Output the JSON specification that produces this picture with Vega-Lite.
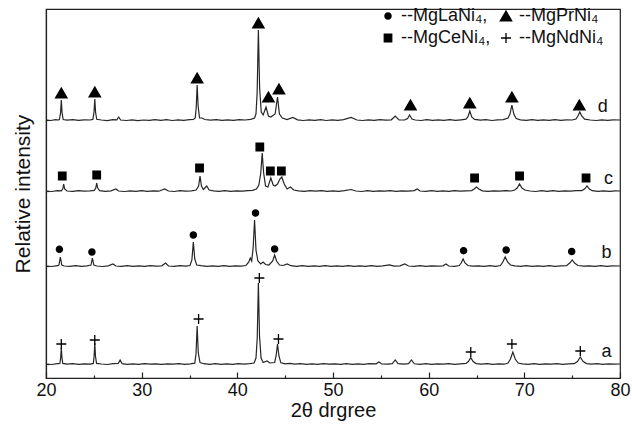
{
  "$schema": "https://vega.github.io/schema/vega-lite/v6.json",
  "width": 574,
  "height": 369,
  "autosize": "none",
  "padding": {"left": 46, "top": 9, "right": 12, "bottom": 49},
  "background": "white",
  "config": {
    "view": {"stroke": "#222", "strokeWidth": 1.2},
    "font": "Liberation Sans",
    "axis": {"grid": false, "domainColor": "#222", "domainWidth": 1.2, "tickColor": "#222", "tickWidth": 1.2, "labelColor": "#111", "titleColor": "#111", "titleFontWeight": "normal", "labelFont": "Liberation Sans", "titleFont": "Liberation Sans"},
    "legend": {"labelFont": "Liberation Sans", "labelFontSize": 18, "labelColor": "#111", "labelOffset": 4, "padding": 0, "rowPadding": 4, "columnPadding": 6}
  },
  "datasets": {
    "lines": [
      {"s":"d","x":20.0,"y":258},{"s":"d","x":20.5,"y":257.5},{"s":"d","x":21.0,"y":258.3},{"s":"d","x":21.3,"y":258},{"s":"d","x":21.4,"y":258.5},{"s":"d","x":21.52,"y":265},{"s":"d","x":21.6,"y":278},{"s":"d","x":21.68,"y":265},{"s":"d","x":21.8,"y":258.5},{"s":"d","x":22.2,"y":257.8},{"s":"d","x":22.8,"y":258.4},{"s":"d","x":23.4,"y":257.6},{"s":"d","x":24.0,"y":258.2},{"s":"d","x":24.6,"y":258},{"s":"d","x":24.9,"y":258.6},{"s":"d","x":25.02,"y":266},{"s":"d","x":25.1,"y":279},{"s":"d","x":25.18,"y":266},{"s":"d","x":25.3,"y":258.7},{"s":"d","x":25.8,"y":258},{"s":"d","x":26.4,"y":257.4},{"s":"d","x":27.0,"y":258.3},{"s":"d","x":27.4,"y":258.2},{"s":"d","x":27.6,"y":261},{"s":"d","x":27.8,"y":258},{"s":"d","x":28.4,"y":257.5},{"s":"d","x":29.0,"y":258.2},{"s":"d","x":29.6,"y":257.3},{"s":"d","x":30.2,"y":258},{"s":"d","x":30.8,"y":257.6},{"s":"d","x":31.4,"y":258.4},{"s":"d","x":32.0,"y":257.7},{"s":"d","x":32.6,"y":258.4},{"s":"d","x":33.2,"y":257.5},{"s":"d","x":33.8,"y":258.1},{"s":"d","x":34.4,"y":257.6},{"s":"d","x":35.0,"y":258.4},{"s":"d","x":35.4,"y":258.6},{"s":"d","x":35.6,"y":260},{"s":"d","x":35.7,"y":270},{"s":"d","x":35.8,"y":293},{"s":"d","x":35.9,"y":272},{"s":"d","x":36.05,"y":260},{"s":"d","x":36.3,"y":260},{"s":"d","x":36.6,"y":258.5},{"s":"d","x":37.2,"y":257.8},{"s":"d","x":37.8,"y":258.4},{"s":"d","x":38.4,"y":257.6},{"s":"d","x":39.0,"y":258.2},{"s":"d","x":39.6,"y":257.7},{"s":"d","x":40.2,"y":258.3},{"s":"d","x":40.8,"y":258},{"s":"d","x":41.4,"y":258.6},{"s":"d","x":41.8,"y":260},{"s":"d","x":41.95,"y":264},{"s":"d","x":42.07,"y":285},{"s":"d","x":42.2,"y":348},{"s":"d","x":42.33,"y":290},{"s":"d","x":42.5,"y":266},{"s":"d","x":42.7,"y":263},{"s":"d","x":43.0,"y":271},{"s":"d","x":43.25,"y":262},{"s":"d","x":43.5,"y":261},{"s":"d","x":43.95,"y":264},{"s":"d","x":44.2,"y":281},{"s":"d","x":44.4,"y":264},{"s":"d","x":44.7,"y":260},{"s":"d","x":45.2,"y":258.5},{"s":"d","x":45.8,"y":260.5},{"s":"d","x":46.3,"y":258.2},{"s":"d","x":46.9,"y":257.5},{"s":"d","x":47.5,"y":258.2},{"s":"d","x":48.1,"y":257.6},{"s":"d","x":48.7,"y":258.3},{"s":"d","x":49.3,"y":257.5},{"s":"d","x":49.9,"y":258.1},{"s":"d","x":50.5,"y":257.7},{"s":"d","x":51.1,"y":258.3},{"s":"d","x":51.9,"y":260.5},{"s":"d","x":52.5,"y":258},{"s":"d","x":53.1,"y":257.5},{"s":"d","x":53.7,"y":258.2},{"s":"d","x":54.3,"y":257.6},{"s":"d","x":54.9,"y":258.4},{"s":"d","x":55.5,"y":257.8},{"s":"d","x":56.1,"y":258.2},{"s":"d","x":56.5,"y":262},{"s":"d","x":56.9,"y":258},{"s":"d","x":57.5,"y":258.2},{"s":"d","x":57.8,"y":259.5},{"s":"d","x":58.0,"y":263},{"s":"d","x":58.25,"y":259},{"s":"d","x":58.6,"y":258},{"s":"d","x":59.2,"y":257.5},{"s":"d","x":59.8,"y":258.3},{"s":"d","x":60.4,"y":257.6},{"s":"d","x":61.0,"y":258.1},{"s":"d","x":61.6,"y":257.7},{"s":"d","x":62.2,"y":258.4},{"s":"d","x":62.8,"y":257.6},{"s":"d","x":63.4,"y":258.2},{"s":"d","x":63.9,"y":258.8},{"s":"d","x":64.1,"y":261},{"s":"d","x":64.3,"y":267},{"s":"d","x":64.5,"y":261},{"s":"d","x":64.8,"y":258.6},{"s":"d","x":65.4,"y":257.8},{"s":"d","x":66.0,"y":258.3},{"s":"d","x":66.6,"y":257.5},{"s":"d","x":67.2,"y":258.2},{"s":"d","x":67.8,"y":258.4},{"s":"d","x":68.3,"y":260},{"s":"d","x":68.5,"y":264},{"s":"d","x":68.7,"y":273},{"s":"d","x":68.9,"y":264},{"s":"d","x":69.15,"y":259.5},{"s":"d","x":69.6,"y":258.2},{"s":"d","x":70.2,"y":257.6},{"s":"d","x":70.8,"y":258.3},{"s":"d","x":71.4,"y":257.6},{"s":"d","x":72.0,"y":258.2},{"s":"d","x":72.6,"y":257.7},{"s":"d","x":73.2,"y":258.3},{"s":"d","x":73.8,"y":257.6},{"s":"d","x":74.4,"y":258.2},{"s":"d","x":75.0,"y":258},{"s":"d","x":75.4,"y":259},{"s":"d","x":75.6,"y":262},{"s":"d","x":75.8,"y":266},{"s":"d","x":76.0,"y":262},{"s":"d","x":76.3,"y":258.8},{"s":"d","x":76.9,"y":258},{"s":"d","x":77.5,"y":257.5},{"s":"d","x":78.1,"y":258.2},{"s":"d","x":78.7,"y":257.6},{"s":"d","x":79.3,"y":258.2},{"s":"d","x":80.0,"y":258},

      {"s":"c","x":20.0,"y":187},{"s":"c","x":20.6,"y":186.5},{"s":"c","x":21.2,"y":187.3},{"s":"c","x":21.6,"y":187.2},{"s":"c","x":21.75,"y":189},{"s":"c","x":21.85,"y":194},{"s":"c","x":21.95,"y":189},{"s":"c","x":22.2,"y":187},{"s":"c","x":22.8,"y":186.6},{"s":"c","x":23.4,"y":187.3},{"s":"c","x":24.0,"y":186.8},{"s":"c","x":24.6,"y":187.2},{"s":"c","x":25.05,"y":187.6},{"s":"c","x":25.2,"y":190},{"s":"c","x":25.3,"y":195},{"s":"c","x":25.4,"y":190},{"s":"c","x":25.6,"y":187.4},{"s":"c","x":26.2,"y":186.7},{"s":"c","x":26.8,"y":187.2},{"s":"c","x":27.3,"y":189},{"s":"c","x":27.6,"y":187},{"s":"c","x":28.2,"y":186.5},{"s":"c","x":28.8,"y":187.2},{"s":"c","x":29.4,"y":186.7},{"s":"c","x":30.0,"y":187.3},{"s":"c","x":30.6,"y":186.6},{"s":"c","x":31.2,"y":187.2},{"s":"c","x":31.8,"y":186.8},{"s":"c","x":32.4,"y":189},{"s":"c","x":32.8,"y":187},{"s":"c","x":33.4,"y":186.5},{"s":"c","x":34.0,"y":187.3},{"s":"c","x":34.6,"y":186.8},{"s":"c","x":35.2,"y":187.2},{"s":"c","x":35.7,"y":188},{"s":"c","x":35.95,"y":192},{"s":"c","x":36.1,"y":202},{"s":"c","x":36.25,"y":192},{"s":"c","x":36.45,"y":188.5},{"s":"c","x":36.8,"y":192},{"s":"c","x":37.05,"y":188},{"s":"c","x":37.5,"y":187.2},{"s":"c","x":38.1,"y":186.6},{"s":"c","x":38.7,"y":187.3},{"s":"c","x":39.3,"y":186.7},{"s":"c","x":39.9,"y":187.2},{"s":"c","x":40.5,"y":186.8},{"s":"c","x":41.1,"y":187.4},{"s":"c","x":41.6,"y":187.6},{"s":"c","x":42.0,"y":189},{"s":"c","x":42.25,"y":193},{"s":"c","x":42.45,"y":205},{"s":"c","x":42.6,"y":225},{"s":"c","x":42.75,"y":205},{"s":"c","x":42.95,"y":192},{"s":"c","x":43.2,"y":191},{"s":"c","x":43.5,"y":200},{"s":"c","x":43.75,"y":193},{"s":"c","x":43.95,"y":192},{"s":"c","x":44.2,"y":194},{"s":"c","x":44.45,"y":199},{"s":"c","x":44.65,"y":201},{"s":"c","x":44.9,"y":194},{"s":"c","x":45.2,"y":189},{"s":"c","x":45.55,"y":191},{"s":"c","x":45.9,"y":188},{"s":"c","x":46.4,"y":187.2},{"s":"c","x":47.0,"y":186.6},{"s":"c","x":47.6,"y":187.3},{"s":"c","x":48.2,"y":186.8},{"s":"c","x":48.8,"y":187.4},{"s":"c","x":49.4,"y":186.6},{"s":"c","x":50.0,"y":187.2},{"s":"c","x":50.6,"y":186.7},{"s":"c","x":51.2,"y":187.3},{"s":"c","x":51.9,"y":188.5},{"s":"c","x":52.4,"y":187},{"s":"c","x":53.0,"y":186.5},{"s":"c","x":53.6,"y":187.3},{"s":"c","x":54.2,"y":186.7},{"s":"c","x":54.8,"y":187.2},{"s":"c","x":55.4,"y":186.8},{"s":"c","x":56.0,"y":187.3},{"s":"c","x":56.6,"y":186.6},{"s":"c","x":57.2,"y":187.2},{"s":"c","x":57.8,"y":186.8},{"s":"c","x":58.5,"y":187.4},{"s":"c","x":58.8,"y":189},{"s":"c","x":59.1,"y":187},{"s":"c","x":59.7,"y":186.6},{"s":"c","x":60.3,"y":187.3},{"s":"c","x":60.9,"y":186.7},{"s":"c","x":61.5,"y":187.2},{"s":"c","x":62.1,"y":186.7},{"s":"c","x":62.7,"y":187.3},{"s":"c","x":63.3,"y":186.8},{"s":"c","x":63.9,"y":187.2},{"s":"c","x":64.5,"y":187.4},{"s":"c","x":64.75,"y":189},{"s":"c","x":65.0,"y":191},{"s":"c","x":65.25,"y":189},{"s":"c","x":65.6,"y":187.2},{"s":"c","x":66.2,"y":186.7},{"s":"c","x":66.8,"y":187.2},{"s":"c","x":67.4,"y":186.8},{"s":"c","x":68.0,"y":187.3},{"s":"c","x":68.6,"y":187},{"s":"c","x":69.0,"y":188},{"s":"c","x":69.25,"y":190},{"s":"c","x":69.5,"y":194},{"s":"c","x":69.75,"y":190},{"s":"c","x":70.05,"y":188},{"s":"c","x":70.6,"y":187},{"s":"c","x":71.2,"y":186.5},{"s":"c","x":71.8,"y":187.3},{"s":"c","x":72.4,"y":186.7},{"s":"c","x":73.0,"y":187.3},{"s":"c","x":73.6,"y":186.6},{"s":"c","x":74.2,"y":187.2},{"s":"c","x":74.8,"y":186.8},{"s":"c","x":75.4,"y":187.3},{"s":"c","x":76.0,"y":187.4},{"s":"c","x":76.3,"y":189},{"s":"c","x":76.55,"y":192},{"s":"c","x":76.8,"y":189},{"s":"c","x":77.1,"y":187.3},{"s":"c","x":77.7,"y":186.7},{"s":"c","x":78.3,"y":187.2},{"s":"c","x":78.9,"y":186.6},{"s":"c","x":79.5,"y":187.2},{"s":"c","x":80.0,"y":187},

      {"s":"b","x":20.0,"y":112},{"s":"b","x":20.6,"y":111.5},{"s":"b","x":21.2,"y":112.3},{"s":"b","x":21.35,"y":113},{"s":"b","x":21.5,"y":121},{"s":"b","x":21.65,"y":113},{"s":"b","x":21.9,"y":112},{"s":"b","x":22.5,"y":111.6},{"s":"b","x":23.1,"y":112.3},{"s":"b","x":23.7,"y":111.7},{"s":"b","x":24.3,"y":112.2},{"s":"b","x":24.7,"y":113},{"s":"b","x":24.85,"y":120},{"s":"b","x":25.0,"y":113},{"s":"b","x":25.3,"y":112},{"s":"b","x":25.9,"y":111.5},{"s":"b","x":26.5,"y":112.2},{"s":"b","x":27.0,"y":114},{"s":"b","x":27.3,"y":112},{"s":"b","x":27.9,"y":111.6},{"s":"b","x":28.5,"y":112.3},{"s":"b","x":29.1,"y":111.7},{"s":"b","x":29.7,"y":112.2},{"s":"b","x":30.3,"y":111.6},{"s":"b","x":30.9,"y":112.3},{"s":"b","x":31.5,"y":111.8},{"s":"b","x":32.1,"y":112.2},{"s":"b","x":32.5,"y":115},{"s":"b","x":32.8,"y":112},{"s":"b","x":33.4,"y":111.6},{"s":"b","x":34.0,"y":112.3},{"s":"b","x":34.6,"y":111.8},{"s":"b","x":35.05,"y":112.5},{"s":"b","x":35.25,"y":118},{"s":"b","x":35.4,"y":136},{"s":"b","x":35.55,"y":119},{"s":"b","x":35.75,"y":113},{"s":"b","x":36.2,"y":112.3},{"s":"b","x":36.8,"y":111.6},{"s":"b","x":37.4,"y":112.2},{"s":"b","x":38.0,"y":111.7},{"s":"b","x":38.6,"y":112.3},{"s":"b","x":39.2,"y":111.6},{"s":"b","x":39.8,"y":112.2},{"s":"b","x":40.4,"y":111.8},{"s":"b","x":40.9,"y":112.5},{"s":"b","x":41.2,"y":116},{"s":"b","x":41.35,"y":120},{"s":"b","x":41.5,"y":117},{"s":"b","x":41.65,"y":130},{"s":"b","x":41.8,"y":158},{"s":"b","x":41.95,"y":128},{"s":"b","x":42.15,"y":117},{"s":"b","x":42.45,"y":114},{"s":"b","x":42.7,"y":116},{"s":"b","x":42.95,"y":113.5},{"s":"b","x":43.3,"y":113},{"s":"b","x":43.7,"y":117},{"s":"b","x":43.9,"y":123},{"s":"b","x":44.1,"y":117},{"s":"b","x":44.4,"y":113},{"s":"b","x":44.8,"y":112.5},{"s":"b","x":45.2,"y":114},{"s":"b","x":45.6,"y":112.3},{"s":"b","x":46.2,"y":111.6},{"s":"b","x":46.8,"y":112.3},{"s":"b","x":47.4,"y":111.7},{"s":"b","x":48.0,"y":112.2},{"s":"b","x":48.6,"y":111.6},{"s":"b","x":49.2,"y":112.3},{"s":"b","x":49.8,"y":111.7},{"s":"b","x":50.4,"y":112.2},{"s":"b","x":51.0,"y":111.7},{"s":"b","x":51.6,"y":112.3},{"s":"b","x":52.2,"y":111.6},{"s":"b","x":52.8,"y":112.2},{"s":"b","x":53.4,"y":111.7},{"s":"b","x":54.0,"y":112.3},{"s":"b","x":54.6,"y":111.6},{"s":"b","x":55.2,"y":112.2},{"s":"b","x":55.9,"y":113.2},{"s":"b","x":56.4,"y":111.8},{"s":"b","x":57.0,"y":112.2},{"s":"b","x":57.5,"y":114},{"s":"b","x":57.9,"y":112},{"s":"b","x":58.5,"y":111.6},{"s":"b","x":59.1,"y":112.3},{"s":"b","x":59.7,"y":111.7},{"s":"b","x":60.3,"y":112.2},{"s":"b","x":60.9,"y":111.8},{"s":"b","x":61.5,"y":112.2},{"s":"b","x":61.8,"y":114},{"s":"b","x":62.1,"y":112},{"s":"b","x":62.7,"y":111.7},{"s":"b","x":63.2,"y":112.5},{"s":"b","x":63.4,"y":115},{"s":"b","x":63.6,"y":119},{"s":"b","x":63.8,"y":115},{"s":"b","x":64.1,"y":112.5},{"s":"b","x":64.6,"y":111.8},{"s":"b","x":65.2,"y":112.2},{"s":"b","x":65.8,"y":111.7},{"s":"b","x":66.4,"y":112.3},{"s":"b","x":67.0,"y":111.7},{"s":"b","x":67.5,"y":112.5},{"s":"b","x":67.75,"y":116},{"s":"b","x":68.0,"y":121},{"s":"b","x":68.25,"y":116},{"s":"b","x":68.55,"y":113},{"s":"b","x":69.0,"y":112.2},{"s":"b","x":69.6,"y":111.7},{"s":"b","x":70.2,"y":112.3},{"s":"b","x":70.8,"y":111.6},{"s":"b","x":71.4,"y":112.2},{"s":"b","x":72.0,"y":111.7},{"s":"b","x":72.6,"y":112.3},{"s":"b","x":73.2,"y":111.6},{"s":"b","x":73.8,"y":112.2},{"s":"b","x":74.4,"y":112.3},{"s":"b","x":74.75,"y":115},{"s":"b","x":75.0,"y":118},{"s":"b","x":75.25,"y":115},{"s":"b","x":75.6,"y":112.5},{"s":"b","x":76.2,"y":111.8},{"s":"b","x":76.8,"y":112.2},{"s":"b","x":77.4,"y":111.6},{"s":"b","x":78.0,"y":112.3},{"s":"b","x":78.6,"y":111.7},{"s":"b","x":79.2,"y":112.2},{"s":"b","x":80.0,"y":112},

      {"s":"a","x":20.0,"y":14},{"s":"a","x":20.6,"y":13.5},{"s":"a","x":21.2,"y":14.3},{"s":"a","x":21.45,"y":14.5},{"s":"a","x":21.53,"y":20},{"s":"a","x":21.6,"y":30},{"s":"a","x":21.67,"y":20},{"s":"a","x":21.75,"y":14.6},{"s":"a","x":22.2,"y":13.8},{"s":"a","x":22.8,"y":14.3},{"s":"a","x":23.4,"y":13.6},{"s":"a","x":24.0,"y":14.2},{"s":"a","x":24.6,"y":13.8},{"s":"a","x":24.95,"y":14.6},{"s":"a","x":25.03,"y":22},{"s":"a","x":25.1,"y":35},{"s":"a","x":25.17,"y":22},{"s":"a","x":25.28,"y":14.6},{"s":"a","x":25.8,"y":14},{"s":"a","x":26.4,"y":13.5},{"s":"a","x":27.0,"y":14.3},{"s":"a","x":27.55,"y":14.5},{"s":"a","x":27.75,"y":18},{"s":"a","x":27.95,"y":14.3},{"s":"a","x":28.5,"y":13.7},{"s":"a","x":29.1,"y":14.2},{"s":"a","x":29.7,"y":13.6},{"s":"a","x":30.3,"y":14.3},{"s":"a","x":30.9,"y":13.8},{"s":"a","x":31.5,"y":14.2},{"s":"a","x":32.1,"y":13.6},{"s":"a","x":32.7,"y":14.2},{"s":"a","x":33.3,"y":13.8},{"s":"a","x":33.9,"y":14.3},{"s":"a","x":34.5,"y":13.7},{"s":"a","x":35.1,"y":14.2},{"s":"a","x":35.55,"y":14.8},{"s":"a","x":35.68,"y":24},{"s":"a","x":35.8,"y":52},{"s":"a","x":35.92,"y":25},{"s":"a","x":36.1,"y":15.5},{"s":"a","x":36.5,"y":14.3},{"s":"a","x":37.1,"y":13.7},{"s":"a","x":37.7,"y":14.3},{"s":"a","x":38.3,"y":13.6},{"s":"a","x":38.9,"y":14.2},{"s":"a","x":39.5,"y":13.7},{"s":"a","x":40.1,"y":14.3},{"s":"a","x":40.7,"y":13.8},{"s":"a","x":41.3,"y":14.3},{"s":"a","x":41.75,"y":15},{"s":"a","x":41.95,"y":20},{"s":"a","x":42.08,"y":40},{"s":"a","x":42.2,"y":95},{"s":"a","x":42.32,"y":42},{"s":"a","x":42.48,"y":20},{"s":"a","x":42.7,"y":15.5},{"s":"a","x":43.1,"y":17},{"s":"a","x":43.4,"y":15},{"s":"a","x":43.9,"y":15.5},{"s":"a","x":44.05,"y":22},{"s":"a","x":44.2,"y":34},{"s":"a","x":44.35,"y":22},{"s":"a","x":44.55,"y":15.2},{"s":"a","x":45.0,"y":14.2},{"s":"a","x":45.5,"y":14.6},{"s":"a","x":46.0,"y":13.8},{"s":"a","x":46.6,"y":14.3},{"s":"a","x":47.2,"y":13.7},{"s":"a","x":47.8,"y":14.2},{"s":"a","x":48.4,"y":13.6},{"s":"a","x":49.0,"y":14.3},{"s":"a","x":49.6,"y":13.8},{"s":"a","x":50.2,"y":14.2},{"s":"a","x":50.8,"y":13.7},{"s":"a","x":51.4,"y":14.3},{"s":"a","x":52.0,"y":13.7},{"s":"a","x":52.6,"y":14.2},{"s":"a","x":53.2,"y":13.6},{"s":"a","x":53.8,"y":14.3},{"s":"a","x":54.5,"y":14.2},{"s":"a","x":54.8,"y":16},{"s":"a","x":55.1,"y":14},{"s":"a","x":55.7,"y":13.8},{"s":"a","x":56.2,"y":14.4},{"s":"a","x":56.5,"y":18},{"s":"a","x":56.8,"y":14.3},{"s":"a","x":57.4,"y":13.8},{"s":"a","x":57.9,"y":14.4},{"s":"a","x":58.2,"y":18},{"s":"a","x":58.5,"y":14.2},{"s":"a","x":59.1,"y":13.7},{"s":"a","x":59.7,"y":14.3},{"s":"a","x":60.3,"y":13.6},{"s":"a","x":60.9,"y":14.2},{"s":"a","x":61.5,"y":13.8},{"s":"a","x":62.1,"y":14.3},{"s":"a","x":62.7,"y":13.7},{"s":"a","x":63.3,"y":14.2},{"s":"a","x":63.9,"y":14.6},{"s":"a","x":64.15,"y":16.5},{"s":"a","x":64.4,"y":20.3},{"s":"a","x":64.65,"y":16.5},{"s":"a","x":64.95,"y":14.4},{"s":"a","x":65.5,"y":13.8},{"s":"a","x":66.1,"y":14.3},{"s":"a","x":66.7,"y":13.6},{"s":"a","x":67.3,"y":14.2},{"s":"a","x":67.9,"y":13.8},{"s":"a","x":68.3,"y":15},{"s":"a","x":68.55,"y":19},{"s":"a","x":68.8,"y":26},{"s":"a","x":69.05,"y":19},{"s":"a","x":69.35,"y":15},{"s":"a","x":69.8,"y":14.2},{"s":"a","x":70.4,"y":13.7},{"s":"a","x":71.0,"y":14.3},{"s":"a","x":71.6,"y":13.6},{"s":"a","x":72.2,"y":14.2},{"s":"a","x":72.8,"y":13.8},{"s":"a","x":73.4,"y":14.3},{"s":"a","x":74.0,"y":13.7},{"s":"a","x":74.6,"y":14.2},{"s":"a","x":75.2,"y":14.3},{"s":"a","x":75.55,"y":16.5},{"s":"a","x":75.85,"y":21},{"s":"a","x":76.15,"y":16.5},{"s":"a","x":76.5,"y":14.4},{"s":"a","x":77.0,"y":13.8},{"s":"a","x":77.6,"y":14.3},{"s":"a","x":78.2,"y":13.7},{"s":"a","x":78.8,"y":14.2},{"s":"a","x":79.4,"y":13.8},{"s":"a","x":80.0,"y":14}
    ],
    "marks": [
      {"x":21.6,"y":285,"ph":"MgPrNi₄"},{"x":25.1,"y":286,"ph":"MgPrNi₄"},{"x":35.8,"y":300,"ph":"MgPrNi₄"},{"x":42.2,"y":355,"ph":"MgPrNi₄"},{"x":43.25,"y":281,"ph":"MgPrNi₄"},{"x":44.35,"y":289,"ph":"MgPrNi₄"},{"x":58.1,"y":273,"ph":"MgPrNi₄"},{"x":64.3,"y":275,"ph":"MgPrNi₄"},{"x":68.7,"y":281,"ph":"MgPrNi₄"},{"x":75.75,"y":273,"ph":"MgPrNi₄"},
      {"x":21.7,"y":202,"ph":"MgCeNi₄"},{"x":25.3,"y":203,"ph":"MgCeNi₄"},{"x":36.05,"y":210,"ph":"MgCeNi₄"},{"x":42.35,"y":231,"ph":"MgCeNi₄"},{"x":43.45,"y":207,"ph":"MgCeNi₄"},{"x":44.6,"y":207,"ph":"MgCeNi₄"},{"x":64.8,"y":200,"ph":"MgCeNi₄"},{"x":69.5,"y":202,"ph":"MgCeNi₄"},{"x":76.45,"y":200,"ph":"MgCeNi₄"},
      {"x":21.4,"y":128.7,"ph":"MgLaNi₄"},{"x":24.8,"y":126,"ph":"MgLaNi₄"},{"x":35.4,"y":143,"ph":"MgLaNi₄"},{"x":41.9,"y":165,"ph":"MgLaNi₄"},{"x":43.9,"y":129,"ph":"MgLaNi₄"},{"x":63.65,"y":127.3,"ph":"MgLaNi₄"},{"x":68.1,"y":128,"ph":"MgLaNi₄"},{"x":74.95,"y":126.5,"ph":"MgLaNi₄"},
      {"x":21.6,"y":34,"ph":"MgNdNi₄"},{"x":25.1,"y":38,"ph":"MgNdNi₄"},{"x":35.95,"y":59,"ph":"MgNdNi₄"},{"x":42.3,"y":100,"ph":"MgNdNi₄"},{"x":44.3,"y":39,"ph":"MgNdNi₄"},{"x":64.4,"y":26,"ph":"MgNdNi₄"},{"x":68.7,"y":34,"ph":"MgNdNi₄"},{"x":75.85,"y":27,"ph":"MgNdNi₄"}
    ],
    "labels": [
      {"x":78.2,"y":271,"t":"d"},{"x":78.8,"y":199,"t":"c"},{"x":78.6,"y":125,"t":"b"},{"x":78.6,"y":26,"t":"a"}
    ]
  },
  "layer": [
    {
      "data": {"name": "lines"},
      "mark": {"type": "line", "color": "#262626", "strokeWidth": 1.2, "clip": true},
      "encoding": {
        "x": {"field": "x", "type": "quantitative", "scale": {"domain": [20, 80], "nice": false, "zero": false},
          "axis": {"values": [20,25,30,35,40,45,50,55,60,65,70,75,80], "labelExpr": "datum.value % 10 === 0 ? datum.label : ''", "tickSize": {"condition": {"test": "datum.value % 10 === 0", "value": -6}, "value": -3}, "labelPadding": 9, "labelFontSize": 18, "labelFlush": false, "title": "2θ drgree", "titleFontSize": 20, "titlePadding": 1}},
        "y": {"field": "y", "type": "quantitative", "scale": {"domain": [0, 369], "nice": false, "zero": false},
          "axis": {"values": [14, 112, 187, 258], "tickSize": -3, "labels": false, "title": "Relative intensity", "titleFontSize": 21, "titlePadding": 12}},
        "detail": {"field": "s"}
      }
    },
    {
      "data": {"name": "marks"},
      "mark": {"type": "point", "filled": true, "color": "black", "stroke": "black", "strokeWidth": 1.3, "opacity": 1},
      "encoding": {
        "x": {"field": "x", "type": "quantitative"},
        "y": {"field": "y", "type": "quantitative"},
        "shape": {"field": "ph", "type": "nominal",
          "scale": {"domain": ["MgLaNi₄", "MgCeNi₄", "MgPrNi₄", "MgNdNi₄"], "range": ["circle", "square", "triangle-up", "M-1,0L1,0M0,-1L0,1"]},
          "legend": {"orient": "none", "legendX": 333, "legendY": -2, "columns": 2, "title": null,
            "symbolFillColor": "black", "symbolStrokeColor": "black", "symbolStrokeWidth": 1.3, "symbolOpacity": 1, "labelFontSize": 18,
            "labelExpr": "(datum.label == 'MgLaNi₄' || datum.label == 'MgCeNi₄') ? '--' + datum.label + ',' : '--' + datum.label"}},
        "size": {"field": "ph", "type": "nominal",
          "scale": {"type": "ordinal", "domain": ["MgLaNi₄", "MgCeNi₄", "MgPrNi₄", "MgNdNi₄"], "range": [38, 56, 130, 100]}}
      }
    },
    {
      "data": {"name": "labels"},
      "mark": {"type": "text", "fontSize": 18, "color": "#111", "align": "center", "baseline": "middle"},
      "encoding": {
        "x": {"field": "x", "type": "quantitative"},
        "y": {"field": "y", "type": "quantitative"},
        "text": {"field": "t"}
      }
    }
  ]
}
